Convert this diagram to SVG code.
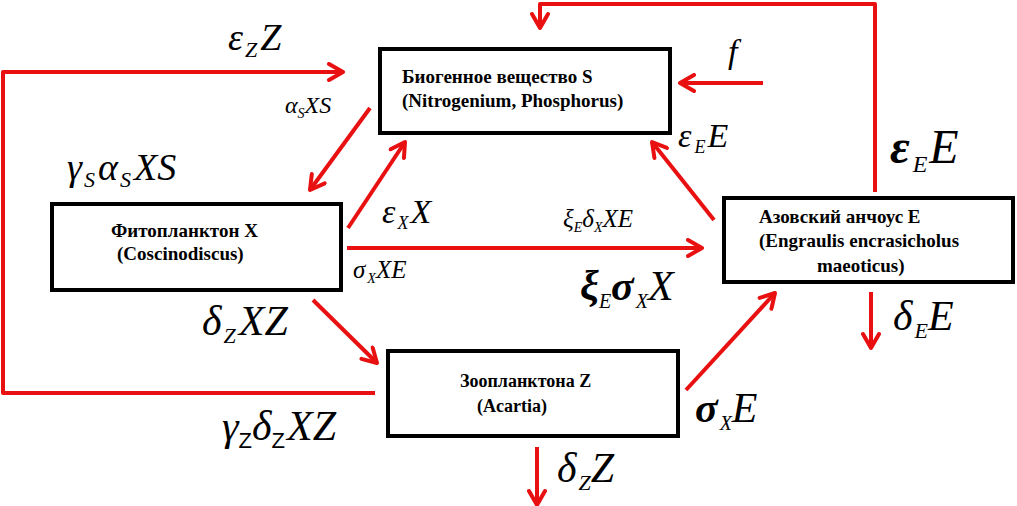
<svg xmlns="http://www.w3.org/2000/svg" width="1017" height="506" viewBox="0 0 1017 506">
<defs>
<marker id="ah" viewBox="0 0 20 20" refX="17" refY="10" markerWidth="20" markerHeight="20" orient="auto" markerUnits="userSpaceOnUse">
<path d="M3,2 L17,10 L3,18" fill="none" stroke="#e81010" stroke-width="4" stroke-linecap="round" stroke-linejoin="round"/>
</marker>
</defs>
<rect width="1017" height="506" fill="#fff"/>
<g id="connectors" fill="none" stroke="#e81010" stroke-width="4" stroke-linejoin="round">
<polyline points="375,393 3,393 3,72 343,72" marker-end="url(#ah)"/>
<polyline points="875,192 875,4 540,4 540,28" marker-end="url(#ah)"/>
<line x1="763" y1="83" x2="680" y2="83" marker-end="url(#ah)"/>
<line x1="370" y1="108" x2="310" y2="190" marker-end="url(#ah)"/>
<line x1="348" y1="228" x2="405" y2="142" marker-end="url(#ah)"/>
<line x1="347" y1="248" x2="702" y2="248" marker-end="url(#ah)"/>
<line x1="714" y1="220" x2="652" y2="142" marker-end="url(#ah)"/>
<line x1="313" y1="300" x2="377" y2="363" marker-end="url(#ah)"/>
<line x1="686" y1="390" x2="775" y2="293" marker-end="url(#ah)"/>
<line x1="871" y1="292" x2="871" y2="348" marker-end="url(#ah)"/>
<line x1="537" y1="447" x2="537" y2="505" marker-end="url(#ah)"/>
</g>
<g id="node-S">
<rect x="380" y="49" width="290" height="84" fill="#fff" stroke="#000" stroke-width="4"/>
<text x="402" y="83" font-family="Liberation Serif" font-weight="bold" font-size="19">Биогенное вещество  S</text>
<text x="402" y="107" font-family="Liberation Serif" font-weight="bold" font-size="19">(Nitrogenium, Phosphorus)</text>
</g>
<g id="node-X">
<rect x="52" y="204" width="289" height="86" fill="#fff" stroke="#000" stroke-width="4"/>
<text x="111" y="237" font-family="Liberation Serif" font-weight="bold" font-size="19">Фитопланктон X</text>
<text x="117" y="260" font-family="Liberation Serif" font-weight="bold" font-size="19">(Coscinodiscus)</text>
</g>
<g id="node-E">
<rect x="724" y="198" width="289" height="84" fill="#fff" stroke="#000" stroke-width="4"/>
<text x="759" y="223" font-family="Liberation Serif" font-weight="bold" font-size="19">Азовский анчоус E</text>
<text x="759" y="247" font-family="Liberation Serif" font-weight="bold" font-size="19">(Engraulis encrasicholus</text>
<text x="817" y="272" font-family="Liberation Serif" font-weight="bold" font-size="19">maeoticus)</text>
</g>
<g id="node-Z">
<rect x="388" y="351" width="290" height="85" fill="#fff" stroke="#000" stroke-width="4"/>
<text x="460" y="387" font-family="Liberation Serif" font-weight="bold" font-size="18">Зоопланктона Z</text>
<text x="477" y="412" font-family="Liberation Serif" font-weight="bold" font-size="18">(Acartia)</text>
</g>
<g id="labels">
<text x="228" y="50" font-size="38" font-family="Liberation Serif" font-style="italic">ε<tspan font-size="22" dy="7" dx="2">Z</tspan><tspan dy="-7" dx="3">Z</tspan></text>
<text x="285" y="113" font-size="24" font-family="Liberation Serif" font-style="italic">α<tspan font-size="14" dy="5">S</tspan><tspan dy="-5">XS</tspan></text>
<text x="67" y="180" font-size="38" font-family="Liberation Serif" font-style="italic">γ<tspan font-size="22" dy="7" dx="2">S</tspan><tspan dy="-7" dx="3">α</tspan><tspan font-size="22" dy="7" dx="2">S</tspan><tspan dy="-7" dx="3">XS</tspan></text>
<text x="382" y="223" font-size="34" font-family="Liberation Serif" font-style="italic">ε<tspan font-size="18" dy="6" dx="2">X</tspan><tspan dy="-6" dx="2">X</tspan></text>
<text x="563" y="227" font-size="25" font-family="Liberation Serif" font-style="italic">ξ<tspan font-size="14" dy="5">E</tspan><tspan dy="-5">δ</tspan><tspan font-size="14" dy="5">X</tspan><tspan dy="-5">XE</tspan></text>
<text x="353" y="278" font-size="25" font-family="Liberation Serif" font-style="italic">σ<tspan font-size="14" dy="5" dx="2">X</tspan><tspan dy="-5">XE</tspan></text>
<text x="580" y="300" font-size="42" font-weight="bold" font-family="Liberation Serif" font-style="italic">ξ<tspan font-size="20" dy="8" font-weight="normal">E</tspan><tspan dy="-8">σ</tspan><tspan font-size="20" dy="8" dx="2" font-weight="normal">X</tspan><tspan dy="-8" font-weight="normal">X</tspan></text>
<text x="202" y="335" font-size="42" font-family="Liberation Serif" font-style="italic">δ<tspan font-size="22" dy="8" dx="2">Z</tspan><tspan dy="-8" dx="3">XZ</tspan></text>
<text x="222" y="440" font-size="42" font-family="Liberation Serif" font-style="italic">γ<tspan font-family="Liberation Sans" font-style="normal" font-size="22" dy="8">Z</tspan><tspan dy="-8">δ</tspan><tspan font-family="Liberation Sans" font-style="normal" font-size="22" dy="8">Z</tspan><tspan dy="-8" dx="2">XZ</tspan></text>
<text x="695" y="422" font-size="42" font-weight="bold" font-family="Liberation Serif" font-style="italic">σ<tspan font-size="20" dy="8" dx="2" font-weight="normal">X</tspan><tspan dy="-8" font-weight="normal">E</tspan></text>
<text x="557" y="482" font-size="42" font-family="Liberation Serif" font-style="italic">δ<tspan font-size="22" dy="8" dx="2">Z</tspan><tspan dy="-8">Z</tspan></text>
<text x="893" y="330" font-size="42" font-family="Liberation Serif" font-style="italic">δ<tspan font-size="22" dy="8" dx="2">E</tspan><tspan dy="-8">E</tspan></text>
<text x="678" y="147" font-size="34" font-family="Liberation Serif" font-style="italic">ε<tspan font-size="18" dy="6" dx="3">E</tspan><tspan dy="-6" dx="2">E</tspan></text>
<text x="890" y="163" font-size="48" font-weight="bold" font-family="Liberation Serif" font-style="italic">ε<tspan font-size="24" dy="9" dx="3" font-weight="normal">E</tspan><tspan dy="-9" dx="2" font-weight="normal">E</tspan></text>
<text x="728" y="63" font-size="34" font-family="Liberation Serif" font-style="italic">f</text>
</g>
</svg>
